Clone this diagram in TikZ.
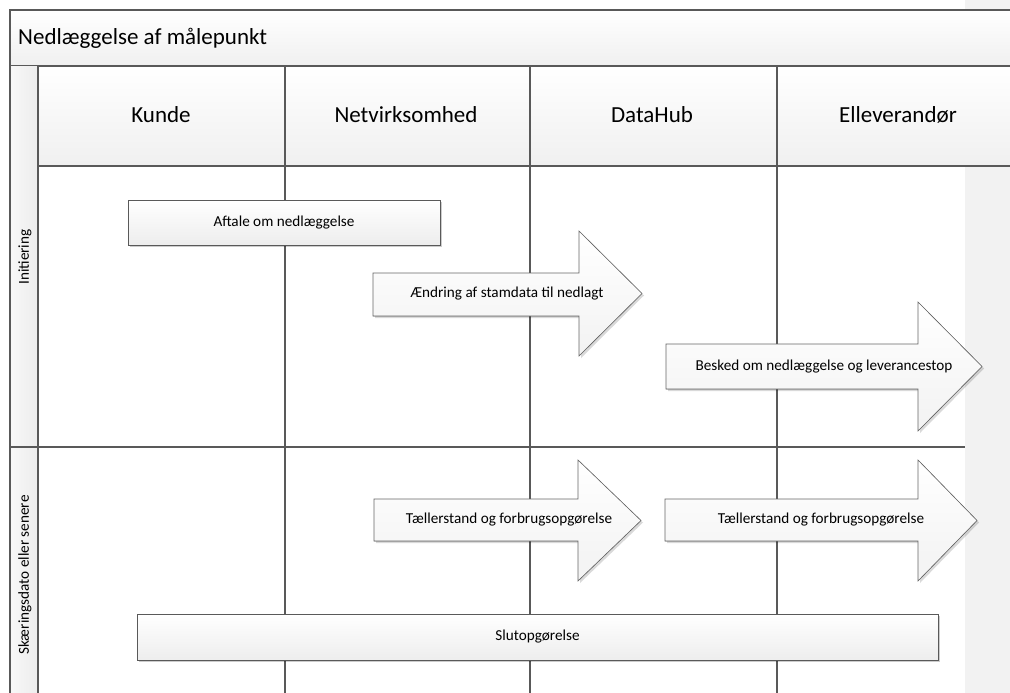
\documentclass[tikz,border=0pt]{standalone}
\usepackage{fontspec}
\setmainfont{Carlito}
\usetikzlibrary{positioning,shadows}
\definecolor{laneline}{HTML}{595959}
\definecolor{strip}{HTML}{F2F2F2}
\tikzstyle{cell}=[
	draw=laneline,
	line width=1.1pt,
	top color=white,
	bottom color=black!6
]
\tikzstyle{lane}=[
	draw=laneline,
	line width=1.1pt
]
\tikzstyle{activity}=[
	rectangle,
	draw=laneline,
	line width=0.8pt,
	top color=white,
	bottom color=black!7,
	drop shadow={shadow xshift=2pt,shadow yshift=-2pt,opacity=0.2,fill=black},
	font=\fontsize{15.2}{17}\selectfont,
	inner sep=0pt
]
\tikzstyle{message}=[
	draw=black!60,
	line width=0.6pt,
	top color=white,
	bottom color=black!5,
	drop shadow={shadow xshift=2pt,shadow yshift=-2pt,opacity=0.15,fill=black}
]
\tikzstyle{msgtext}=[
	font=\fontsize{15.2}{17}\selectfont,
	inner sep=0pt
]
\tikzstyle{heading}=[
	font=\fontsize{23}{26}\selectfont,
	inner sep=0pt
]

\begin{document}
\begin{tikzpicture}[x=1pt,y=-1pt]
\useasboundingbox (0,0) rectangle (1010,693);
\fill[white] (0,0) rectangle (1010,693);
\fill[strip] (965,0) rectangle (1010,693);
% title and column headers
\filldraw[cell] (10,10) rectangle (1012,66);
\node [heading, anchor=west] (Title) at (18,38) {Nedlæggelse af målepunkt};
\filldraw[cell] (38,66) rectangle (1012,166);
\shade[left color=black!3, right color=black!7] (11,67) rectangle (37,692);
\node [heading] (Kunde) at (161,115) {Kunde};
\node [heading] (Netvirksomhed) at (406,115) {Netvirksomhed};
\node [heading] (DataHub) at (652,115) {DataHub};
\node [heading] (Elleverandor) at (898,115) {Elleverandør};
% lanes
\draw[lane] (10,66) -- (10,693);
\draw[lane] (38,66) -- (38,693);
\draw[lane] (285,66) -- (285,693);
\draw[lane] (530,66) -- (530,693);
\draw[lane] (777,66) -- (777,693);
\draw[lane] (10,447) -- (965,447);
\node [msgtext, rotate=90] (Initiering) at (25,257) {Initiering};
\node [msgtext, rotate=90] (Skaeringsdato) at (25,575) {Skæringsdato eller senere};
% activities
\node [activity, minimum width=312pt, minimum height=45pt] (Aftale) at (284,222.5) {Aftale om nedlæggelse};
\node [activity, minimum width=801pt, minimum height=46pt] (Slutopgorelse) at (537.5,637) {Slutopgørelse};
% messages
\filldraw[message] (373,273) -- (579,273) -- (579,231) -- (642,293.5) -- (579,356) -- (579,316) -- (373,316) -- cycle;
\node [msgtext] (Stamdata) at (507,294) {Ændring af stamdata til nedlagt};
\filldraw[message] (666,344) -- (918,344) -- (918,302) -- (982,366.5) -- (918,431) -- (918,389) -- (666,389) -- cycle;
\node [msgtext] (Besked) at (824,367) {Besked om nedlæggelse og leverancestop};
\filldraw[message] (374,499) -- (578,499) -- (578,460) -- (641,520.5) -- (578,581) -- (578,541) -- (374,541) -- cycle;
\node [msgtext] (TaellerstandNet) at (509,520) {Tællerstand og forbrugsopgørelse};
\filldraw[message] (665,499) -- (918,499) -- (918,460) -- (977,520.5) -- (918,581) -- (918,541) -- (665,541) -- cycle;
\node [msgtext] (TaellerstandHub) at (821,520) {Tællerstand og forbrugsopgørelse};
\end{tikzpicture}
\end{document}
